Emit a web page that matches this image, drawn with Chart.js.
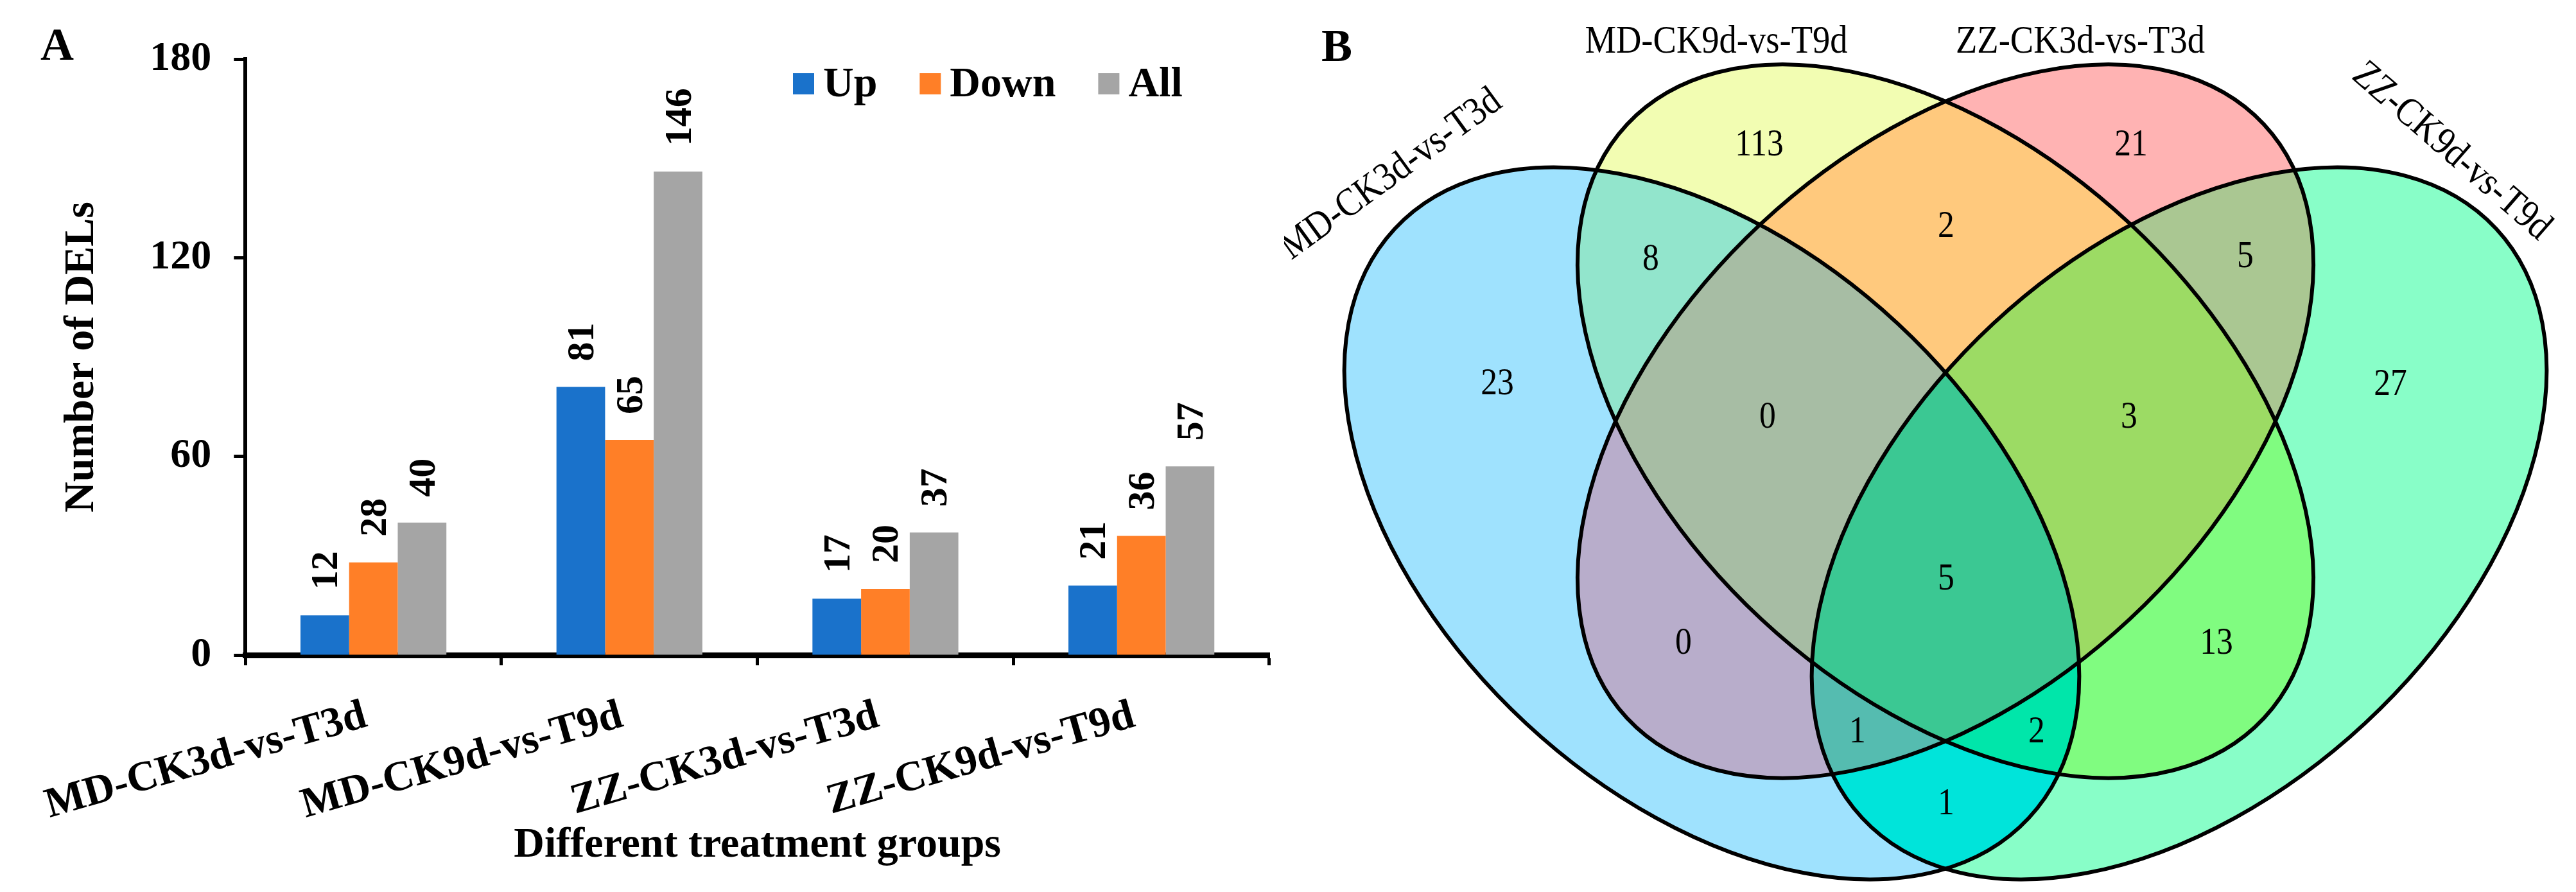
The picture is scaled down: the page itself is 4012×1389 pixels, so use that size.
<!DOCTYPE html>
<html>
<head>
<meta charset="utf-8">
<script src="https://cdn.jsdelivr.net/npm/chart.js@4.4.1/dist/chart.umd.min.js"></script>
<style>
html,body{margin:0;padding:0;background:#fff;}
#wrap{position:relative;width:4012px;height:1389px;background:#fff;overflow:hidden;}
#barBox{position:absolute;left:0;top:0;width:2000px;height:1389px;}
#vennBox{position:absolute;left:2000px;top:0;width:2012px;height:1389px;}
canvas{display:block;}
</style>
</head>
<body>
<div id="wrap">
  <div id="barBox"><canvas id="bar" width="2000" height="1389"></canvas></div>
  <div id="vennBox"><canvas id="venn" width="2012" height="1389"></canvas></div>
</div>
<script>
const FONT = "'Liberation Serif','Times New Roman',Times,serif";

// ---------- Panel A data ----------
const categories = ['MD-CK3d-vs-T3d', 'MD-CK9d-vs-T9d', 'ZZ-CK3d-vs-T3d', 'ZZ-CK9d-vs-T9d'];
const seriesNames = ['Up', 'Down', 'All'];
const upValues = [12, 81, 17, 21];
const downValues = [28, 65, 20, 36];
const allValues = [40, 146, 37, 57];
const yTickValues = [0, 60, 120, 180];
const yTitle = 'Number of DELs';
const xTitle = 'Different treatment groups';

// ---------- Panel B data ----------
const setNames = ['MD-CK3d-vs-T3d', 'MD-CK9d-vs-T9d', 'ZZ-CK3d-vs-T3d', 'ZZ-CK9d-vs-T9d'];
// membership of each region: blue(MD-CK3d), yellow(MD-CK9d), pink(ZZ-CK3d), green(ZZ-CK9d)
const regionSets = ['1000', '0100', '0010', '0001', '1100', '0110', '0011', '1110', '0111', '1111', '1010', '0101', '1011', '1101', '1001'];
const regionCounts = [23, 113, 21, 27, 8, 2, 5, 0, 3, 5, 0, 13, 1, 2, 1];

// ---------- styles / layout (kept apart from the data) ----------
const seriesColors = ['#1A72CB', '#FF7F27', '#A5A5A5'];
const regionColors = ['#9FE2FE', '#F2FDB2', '#FFB3B3', '#88FEC8', '#92E5CC', '#FFC97D', '#AAC792', '#A7BDA4', '#9CDB64', '#3BC893', '#B8ADCB', '#80FC80', '#55BCB0', '#00E6AA', '#00E4DA'];
const regionLabelX = [2332, 2740, 3319, 3723, 2571, 3031, 3497, 2753, 3316, 3031, 2622, 3452, 2893, 3172, 3031];
const regionLabelY = [595, 223, 223, 596, 401, 350, 397, 647, 647, 899, 999, 999, 1137, 1137, 1249];
const ellCX = [2666, 3030, 3030, 3394];
const ellCY = [815, 656, 656, 815];
const ellA = [674, 678, 678, 674];
const ellB = [425, 421, 421, 425];
const ellRot = [42.9, 43, -43, -42.9];
const setLabelX = [2167, 2673, 3240, 3818];
const setLabelY = [272, 66, 66, 236];
const setLabelRot = [-36, 0, 0, 41];

// ---------- Panel A plugins ----------
const barValuePlugin = {
  id: 'barValues',
  afterDatasetsDraw(chart) {
    const ctx = chart.ctx;
    ctx.save();
    ctx.font = 'bold 60px ' + FONT;
    ctx.fillStyle = '#000';
    chart.data.datasets.forEach((ds, i) => {
      const meta = chart.getDatasetMeta(i);
      meta.data.forEach((bar, j) => {
        ctx.save();
        ctx.translate(bar.x + 4, bar.y - 40);
        ctx.rotate(-Math.PI / 2);
        ctx.textAlign = 'left';
        ctx.textBaseline = 'middle';
        ctx.fillText(String(ds.data[j]), 0, 0);
        ctx.restore();
      });
    });
    ctx.restore();
  }
};

const customLegendPlugin = {
  id: 'customLegend',
  afterDraw(chart) {
    const ctx = chart.ctx;
    ctx.save();
    ctx.font = 'bold 66px ' + FONT;
    ctx.textBaseline = 'middle';
    ctx.textAlign = 'left';
    let x = 1235;
    const y = 130;
    chart.data.datasets.forEach(ds => {
      ctx.fillStyle = ds.backgroundColor;
      ctx.fillRect(x, y - 16, 33, 33);
      x += 33 + 14;
      ctx.fillStyle = '#000';
      ctx.fillText(ds.label, x, y + 3);
      x += ctx.measureText(ds.label).width + 66;
    });
    ctx.restore();
  }
};

const panelLetterA = {
  id: 'panelA',
  afterDraw(chart) {
    const ctx = chart.ctx;
    ctx.save();
    ctx.font = 'bold 72px ' + FONT;
    ctx.fillStyle = '#000';
    ctx.textAlign = 'center';
    ctx.textBaseline = 'middle';
    ctx.fillText('A', 89, 74);
    ctx.restore();
  }
};

const values = [upValues, downValues, allValues];
new Chart(document.getElementById('bar'), {
  type: 'bar',
  data: {
    labels: categories,
    datasets: seriesNames.map((name, i) => ({
      label: name,
      data: values[i],
      backgroundColor: seriesColors[i],
      borderWidth: 0
    }))
  },
  options: {
    responsive: false,
    devicePixelRatio: 1,
    animation: false,
    layout: { padding: { left: 0, right: 23, top: 92, bottom: 0 } },
    datasets: { bar: { categoryPercentage: 0.57, barPercentage: 1.0 } },
    plugins: { legend: { display: false }, tooltip: { enabled: false } },
    scales: {
      x: {
        z: 1,
        offset: true,
        grid: { display: true, drawOnChartArea: false, offset: true, tickLength: 16, tickWidth: 5, tickColor: '#000', color: '#000' },
        border: { display: true, color: '#000', width: 9 },
        ticks: { color: '#000', font: { family: FONT, size: 66, weight: 'bold' }, minRotation: 16, maxRotation: 16, padding: 40, labelOffset: -12, autoSkip: false },
        title: { display: true, text: xTitle, color: '#000', font: { family: FONT, size: 66, weight: 'bold' }, padding: { top: 0, bottom: 32 } },
        afterFit: s => { s.height = 369; }
      },
      y: {
        z: 1,
        min: 0,
        max: 180,
        afterBuildTicks: s => { s.ticks = yTickValues.map(v => ({ value: v })); },
        grid: { display: true, drawOnChartArea: false, tickLength: 18, tickWidth: 5, tickColor: '#000', color: '#000' },
        border: { display: true, color: '#000', width: 6 },
        ticks: { color: '#000', font: { family: FONT, size: 64, weight: 'bold' }, padding: 35 },
        title: { display: true, text: yTitle, color: '#000', font: { family: FONT, size: 66, weight: 'bold' }, padding: { top: 63, bottom: 0 } },
        afterFit: s => { s.width = 357; }
      }
    }
  },
  plugins: [barValuePlugin, customLegendPlugin, panelLetterA]
});

// ---------- Panel B (Venn) ----------
const vennPlugin = {
  id: 'venn',
  beforeDatasetsDraw(chart) {
    const ctx = chart.ctx;
    const xs = chart.scales.x, ys = chart.scales.y;
    const W = chart.width, H = chart.height;
    const sx = Math.abs(xs.getPixelForValue(1) - xs.getPixelForValue(0));
    const sy = Math.abs(ys.getPixelForValue(1) - ys.getPixelForValue(0));
    function ellPath(i) {
      const cx = xs.getPixelForValue(ellCX[i]);
      const cy = ys.getPixelForValue(ellCY[i]);
      const r = ellRot[i] * Math.PI / 180;
      const a = ellA[i] * sx, b = ellB[i] * sy;
      ctx.moveTo(cx + a * Math.cos(r), cy + a * Math.sin(r));
      ctx.ellipse(cx, cy, a, b, r, 0, Math.PI * 2);
      ctx.closePath();
    }
    regionSets.forEach((mask, k) => {
      ctx.save();
      for (let i = 0; i < 4; i++) {
        ctx.beginPath();
        if (mask[i] === '1') {
          ellPath(i);
          ctx.clip();
        } else {
          ctx.rect(0, 0, W, H);
          ellPath(i);
          ctx.clip('evenodd');
        }
      }
      ctx.fillStyle = regionColors[k];
      ctx.fillRect(0, 0, W, H);
      ctx.restore();
    });
    ctx.save();
    ctx.lineWidth = 6;
    ctx.strokeStyle = '#000';
    for (let i = 0; i < 4; i++) {
      ctx.beginPath();
      ellPath(i);
      ctx.stroke();
    }
    ctx.restore();
  },
  afterDatasetsDraw(chart) {
    const ctx = chart.ctx;
    const xs = chart.scales.x, ys = chart.scales.y;
    const meta = chart.getDatasetMeta(0);
    ctx.save();
    ctx.fillStyle = '#000';
    ctx.textAlign = 'center';
    ctx.textBaseline = 'middle';
    ctx.font = '60px ' + FONT;
    meta.data.forEach((pt, j) => {
      ctx.save();
      ctx.translate(pt.x, pt.y);
      ctx.scale(0.86, 1);
      ctx.fillText(String(regionCounts[j]), 0, 3);
      ctx.restore();
    });
    ctx.font = '62px ' + FONT;
    setNames.forEach((name, i) => {
      ctx.save();
      ctx.translate(xs.getPixelForValue(setLabelX[i]), ys.getPixelForValue(setLabelY[i]));
      ctx.rotate(setLabelRot[i] * Math.PI / 180);
      ctx.scale(0.88, 1);
      ctx.fillText(name, 0, 0);
      ctx.restore();
    });
    ctx.font = 'bold 72px ' + FONT;
    ctx.fillText('B', xs.getPixelForValue(2082), ys.getPixelForValue(76));
    ctx.restore();
  }
};

new Chart(document.getElementById('venn'), {
  type: 'scatter',
  data: {
    datasets: [{
      label: 'region counts',
      data: regionCounts.map((c, i) => ({ x: regionLabelX[i], y: regionLabelY[i] })),
      pointRadius: 0,
      pointHoverRadius: 0,
      showLine: false
    }]
  },
  options: {
    responsive: false,
    devicePixelRatio: 1,
    animation: false,
    layout: { padding: 0 },
    plugins: { legend: { display: false }, tooltip: { enabled: false } },
    scales: {
      x: { type: 'linear', min: 2000, max: 4012, display: false },
      y: { type: 'linear', min: 0, max: 1389, reverse: true, display: false }
    }
  },
  plugins: [vennPlugin]
});
</script>
</body>
</html>
